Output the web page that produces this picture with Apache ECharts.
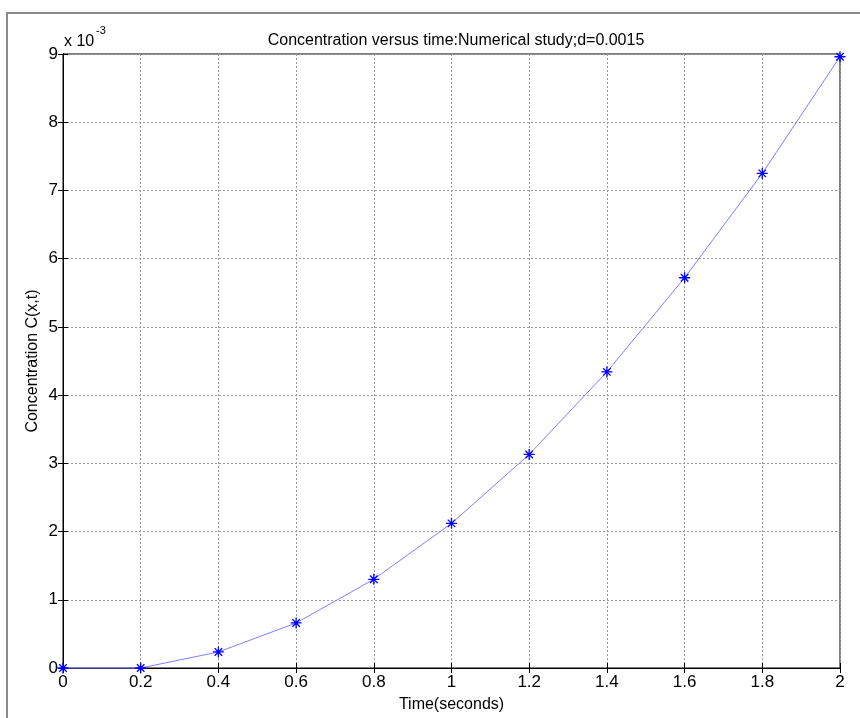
<!DOCTYPE html>
<html>
<head>
<meta charset="utf-8">
<script src="https://cdn.jsdelivr.net/npm/echarts@6/dist/echarts.min.js"></script>
<style>
  html, body { margin: 0; padding: 0; background: #fff; }
  #main { width: 860px; height: 718px; }
</style>
</head>
<body>
<div id="main"></div>
<script>
  // time in seconds
  var timeValues = [0, 0.2, 0.4, 0.6, 0.8, 1.0, 1.2, 1.4, 1.6, 1.8, 2.0];
  // concentration, in units of 1e-3
  var concentration = [0, 0, 0.235, 0.66, 1.30, 2.12, 3.13, 4.34, 5.72, 7.25, 8.96];
  var xTicks = [0, 0.2, 0.4, 0.6, 0.8, 1, 1.2, 1.4, 1.6, 1.8, 2];
  var yTicks = [0, 1, 2, 3, 4, 5, 6, 7, 8, 9];

  var pts = [];
  for (var i = 0; i < timeValues.length; i++) {
    pts.push([timeValues[i], concentration[i]]);
  }

  var font = 'Liberation Sans, Arial, sans-serif';
  var asterisk = 'path://M5,0L5,10M0,5L10,5M1.6,1.6L8.4,8.4M1.6,8.4L8.4,1.6';

  var chart = echarts.init(document.getElementById('main'));
  chart.setOption({
    animation: false,
    backgroundColor: '#fff',
    title: {
      text: 'Concentration versus time:Numerical study;d=0.0015',
      left: 451,
      top: 28,
      textAlign: 'center',
      textStyle: { fontFamily: font, fontSize: 16, fontWeight: 'normal', color: '#000' }
    },
    grid: {
      left: 63, right: 20, top: 54, bottom: 50,
      containLabel: false,
      show: true,
      borderColor: '#000',
      borderWidth: 1
    },
    xAxis: [{
      type: 'value',
      min: 0, max: 2, interval: 0.2,
      name: 'Time(seconds)',
      nameLocation: 'middle',
      nameGap: 29,
      nameTextStyle: { fontFamily: font, fontSize: 16, color: '#000' },
      axisLine: { show: true, onZero: false, lineStyle: { color: '#000', width: 1 } },
      axisTick: { show: true, inside: true, length: 5, lineStyle: { color: '#000' } },
      axisLabel: {
        margin: 6,
        fontFamily: font, fontSize: 17, color: '#000',
        formatter: function (v) { return String(+v.toFixed(1)); }
      },
      splitLine: { show: true, lineStyle: { color: '#999', type: [2, 2], width: 1 } }
    }, {
      type: 'value',
      position: 'top',
      min: 0, max: 2, interval: 0.2,
      axisLine: { show: true, lineStyle: { color: '#000' } },
      axisTick: { show: true, inside: true, length: 5, lineStyle: { color: '#000' } },
      axisLabel: { show: false },
      splitLine: { show: false }
    }],
    yAxis: [{
      type: 'value',
      min: 0, max: 9, interval: 1,
      name: 'Concentration C(x,t)',
      nameLocation: 'middle',
      nameGap: 22,
      nameMoveOverlap: false,
      nameTextStyle: { fontFamily: font, fontSize: 16, color: '#000' },
      axisLine: { show: true, onZero: false, lineStyle: { color: '#000', width: 1 } },
      axisTick: { show: true, inside: true, length: 5, lineStyle: { color: '#000' } },
      axisLabel: { margin: 5, fontFamily: font, fontSize: 17, color: '#000' },
      splitLine: { show: true, lineStyle: { color: '#999', type: [2, 2], width: 1 } }
    }, {
      type: 'value',
      position: 'right',
      min: 0, max: 9, interval: 1,
      axisLine: { show: true, lineStyle: { color: '#000' } },
      axisTick: { show: true, inside: true, length: 5, lineStyle: { color: '#000' } },
      axisLabel: { show: false },
      splitLine: { show: false }
    }],
    graphic: [{
      type: 'rect',
      shape: { x: 7, y: 13, width: 900, height: 800 },
      style: { fill: 'none', stroke: '#8a8a8a', lineWidth: 2 },
      silent: true
    }, {
      type: 'text',
      left: 64, top: 34,
      style: { text: 'x 10', font: '16px ' + font, fill: '#000' }
    }, {
      type: 'text',
      left: 96, top: 25,
      style: { text: '-3', font: '11px ' + font, fill: '#000' }
    }],
    series: [{
      type: 'line',
      xAxisIndex: 0,
      yAxisIndex: 0,
      data: pts,
      smooth: false,
      symbol: asterisk,
      symbolSize: 11,
      showAllSymbol: true,
      clip: false,
      lineStyle: { color: '#7f7fff', width: 1 },
      itemStyle: { color: 'rgba(0,0,0,0)', borderColor: '#0000ff', borderWidth: 1.3 }
    }]
  });
</script>
</body>
</html>
